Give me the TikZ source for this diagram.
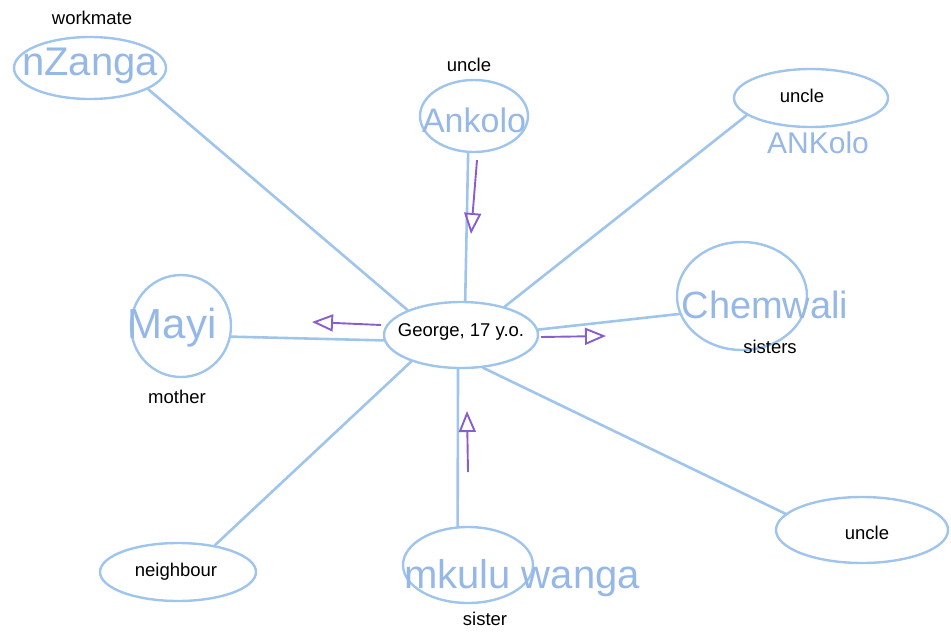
\documentclass[tikz,border=0pt]{standalone}
\usepackage{fontspec}
\setmainfont{Liberation Sans}
\newfontfamily\handfont{Liberation Sans}
\usetikzlibrary{shapes.geometric,arrows.meta}

\definecolor{pencil}{RGB}{160,197,236}
\definecolor{ink}{RGB}{135,95,205}
\definecolor{script}{RGB}{150,184,230}

\tikzset{
  person/.style={ellipse, draw=pencil, line width=2.4pt, inner sep=0pt},
  tie/.style={draw=pencil, line width=2.6pt, line cap=round},
  kin/.style={font=\fontsize{18.5}{21}\selectfont, text=black, inner sep=1pt},
  hand/.style={text=script, inner sep=0pt},
  flow/.style={draw=ink, line width=1.9pt,
    -{Triangle[open, length=21pt, width=17pt]}},
}

\begin{document}
\begin{tikzpicture}[x=1pt, y=-1pt]
  \useasboundingbox (0,0) rectangle (951,643);

  % people
  \node[person, minimum width=152pt, minimum height=62pt]  (nz)   at (90,68)   {};
  \node[person, minimum width=108pt, minimum height=72pt]  (ank)  at (474,116) {};
  \node[person, minimum width=154pt, minimum height=58pt]  (tr)   at (811,98)  {};
  \node[person, minimum width=100pt, minimum height=102pt] (mayi) at (181,326) {};
  \node[person, minimum width=154pt, minimum height=66pt]  (g)    at (461,335) {};
  \node[person, minimum width=130pt, minimum height=108pt] (chem) at (742,296) {};
  \node[person, minimum width=156pt, minimum height=58pt]  (nb)   at (178,572) {};
  \node[person, minimum width=130pt, minimum height=76pt]  (mk)   at (468,565) {};
  \node[person, minimum width=172pt, minimum height=66pt]  (br)   at (862,530) {};

  % ties to George
  \draw[tie] (nz.-20)    -- (g.155);
  \draw[tie] (ank.-99)   -- (g.83);
  \draw[tie] (tr.195)    -- (g.33);
  \draw[tie] (mayi.-12)  -- (g.184);
  \draw[tie] (chem.196)  -- (g.4);
  \draw[tie] (nb.36)     -- (g.208);
  \draw[tie] (mk.105)    -- (g.265);
  \draw[tie] (br.168)    -- (g.-56);

  % handwritten names
  \node[hand, font=\handfont\fontsize{40}{44}\selectfont] (nzT)   at (90,66)   {nZanga};
  \node[hand, font=\handfont\fontsize{34}{38}\selectfont] (ankT)  at (474,120) {Ankolo};
  \node[hand, font=\handfont\fontsize{30}{34}\selectfont] (trT)   at (818,143) {ANKolo};
  \node[hand, font=\handfont\fontsize{42}{46}\selectfont] (mayiT) at (172,328) {Mayi};
  \node[hand, font=\handfont\fontsize{38}{42}\selectfont] (chemT) at (765,305) {Chemwali};
  \node[hand, font=\handfont\fontsize{40}{44}\selectfont] (mkT)   at (522,578) {mkulu wanga};

  % printed relations
  \node[kin] (lWork)  at (92,18)   {workmate};
  \node[kin] (lUnc1)  at (469,65)  {uncle};
  \node[kin] (lUnc2)  at (802,96)  {uncle};
  \node[kin] (lMoth)  at (177,397) {mother};
  \node[kin] (lGeo)   at (461,332) {George, 17 y.o.};
  \node[kin] (lSis2)  at (770,347) {sisters};
  \node[kin] (lNeig)  at (176,572) {neighbour};
  \node[kin] (lSis1)  at (485,619) {sister};
  \node[kin] (lUnc3)  at (867,533) {uncle};

  % direction marks
  \coordinate (dnA) at (477,160);  \coordinate (dnB) at (471,234);
  \coordinate (lfA) at (381,325);  \coordinate (lfB) at (312,322);
  \coordinate (rtA) at (541,337);  \coordinate (rtB) at (606,336);
  \coordinate (upA) at (468,472);  \coordinate (upB) at (467,411);
  \draw[flow] (dnA) -- (dnB);
  \draw[flow] (lfA) -- (lfB);
  \draw[flow] (rtA) -- (rtB);
  \draw[flow] (upA) -- (upB);
\end{tikzpicture}
\end{document}
